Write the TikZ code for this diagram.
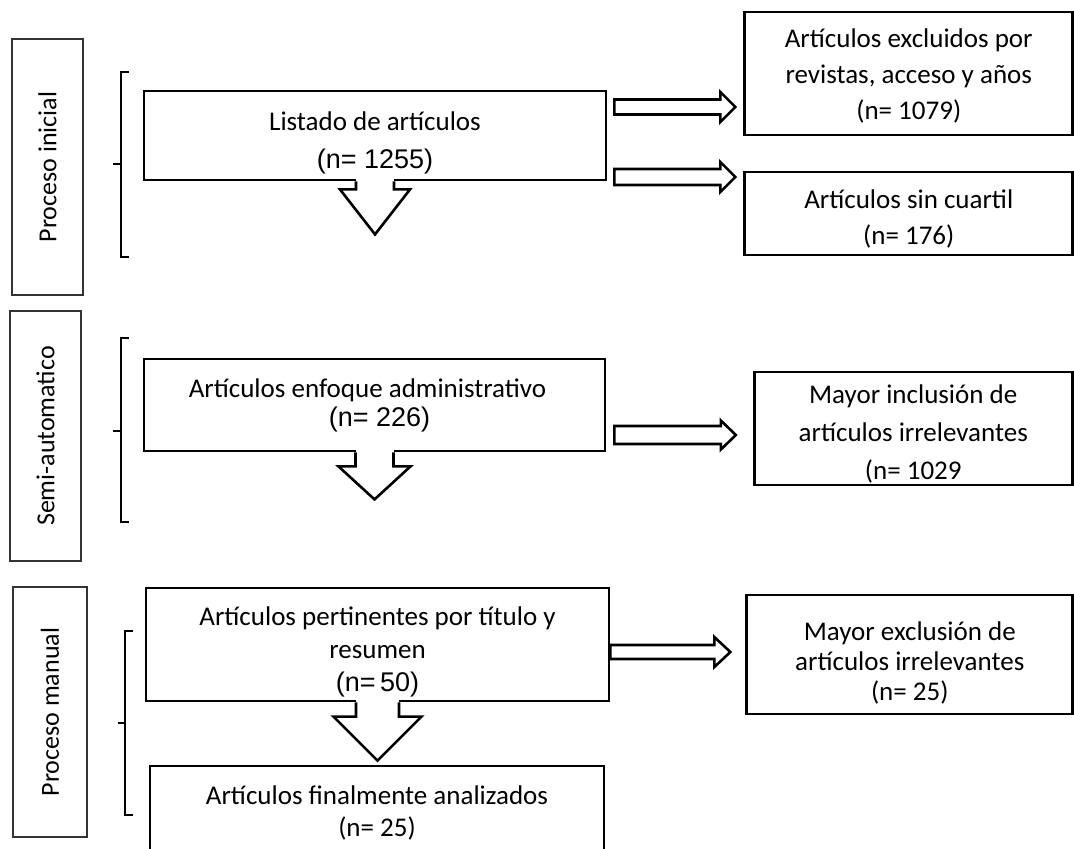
\documentclass[tikz,border=0pt]{standalone}
\usepackage{fontspec}
\setmainfont{Carlito}
\newfontfamily\arialfont{Liberation Sans}
\usetikzlibrary{calc}

\tikzset{
	mainbox/.style={draw, line width=1.4pt, fill=white, inner sep=0pt},
	boxtext/.style={align=center, inner sep=0pt, font=\fontsize{13.5pt}{#1}\selectfont},
	boxtext/.default=18pt,
	phasebox/.style={draw=black!80, line width=0.9pt, rotate=90, inner sep=0pt,
		font=\fontsize{13pt}{15pt}\selectfont},
	blockarrow/.style={draw, line width=1.3pt, fill=white, line join=miter},
	bracket/.style={line width=0.6pt}
}

% hollow block arrows: start, tip, head length, head half width, shaft half width
\newcommand{\flowright}[5]{%
	\draw[blockarrow] ($(#1)+(0,-#5)$) -- ($(#2)+(-#3,-#5)$) -- ($(#2)+(-#3,-#4)$) -- (#2)
		-- ($(#2)+(-#3,#4)$) -- ($(#2)+(-#3,#5)$) -- ($(#1)+(0,#5)$) -- cycle;}
\newcommand{\flowdown}[5]{%
	\fill[white] ($(#1)+(-#5,-3)$) rectangle ($(#2)+(#5,-#3)$);
	\fill[white] ($(#2)+(-#4,-#3)$) -- (#2) -- ($(#2)+(#4,-#3)$) -- cycle;
	\draw[blockarrow, fill=none] ($(#1)+(-#5,0)$) -- ($(#2)+(-#5,-#3)$) -- ($(#2)+(-#4,-#3)$) -- (#2)
		-- ($(#2)+(#4,-#3)$) -- ($(#2)+(#5,-#3)$) -- ($(#1)+(#5,0)$);}

\begin{document}
\begin{tikzpicture}[x=0.5pt, y=-0.5pt]
	%\draw[help lines] (0,0) grid (1074,848);
	\useasboundingbox (0,0) rectangle (1074,848);

	% phases
	\node[phasebox, minimum width=128pt, minimum height=35.5pt] (inicial) at (47.5,167) {Proceso inicial};
	\node[phasebox, minimum width=125pt, minimum height=35.5pt] (semi) at (45.5,436) {Semi-automatico};
	\node[phasebox, minimum width=125pt, minimum height=37pt] (manual) at (50,712) {Proceso manual};

	\draw[bracket] (129,72) -- (121,72) -- (121,257) -- (129,257);
	\draw[bracket] (113,164) -- (121,164);
	\draw[bracket] (129,338) -- (121,338) -- (121,522) -- (129,522);
	\draw[bracket] (113,431) -- (121,431);
	\draw[bracket] (133,631) -- (125,631) -- (125,815) -- (133,815);
	\draw[bracket] (118,723) -- (125,723);

	% main column
	\node[mainbox, minimum width=231pt, minimum height=44.5pt,
		label={[boxtext=19pt, yshift=-3.5pt]center:{Listado de artículos\\{\arialfont (n= 1255)}}}] (listado) at (375,135.5) {};
	\node[mainbox, minimum width=230.5pt, minimum height=46pt,
		label={[boxtext=14.5pt, xshift=-3.5pt]center:{Artículos enfoque administrativo\\\hspace*{12pt}{\arialfont (n= 226)}}}] (enfoque) at (374.5,405) {};
	\node[mainbox, minimum width=231.5pt, minimum height=56.5pt,
		label={[boxtext=16.5pt, yshift=-3.5pt]center:{Artículos pertinentes por título y\\resumen\\{\arialfont (n=\,50)}}}] (pertinentes) at (377.5,644.5) {};
	\node[mainbox, minimum width=227pt, minimum height=42pt,
		label={[boxtext=16pt, yshift=-2.5pt]center:{Artículos finalmente analizados\\(n= 25)}}] (final) at (377,808) {};

	% side column
	\node[mainbox, minimum width=164pt, minimum height=61.5pt,
		label={[boxtext, yshift=-1pt]center:{Artículos excluidos por\\revistas, acceso y años\\(n= 1079)}}] (excl) at (908.75,73.5) {};
	\node[mainbox, minimum width=164pt, minimum height=41.5pt,
		label={[boxtext, yshift=-2.5pt]center:{Artículos sin cuartil\\(n= 176)}}] (sincuartil) at (908.75,213.5) {};
	\node[mainbox, minimum width=159pt, minimum height=56.5pt,
		label={[boxtext=19pt, yshift=-2.5pt]center:{Mayor inclusión de\\artículos irrelevantes\\(n= 1029}}] (inclusion) at (913.25,428.5) {};
	\node[mainbox, minimum width=163pt, minimum height=59.5pt,
		label={[boxtext=15pt, yshift=-4pt]center:{Mayor exclusión de\\artículos irrelevantes\\(n= 25)}}] (exclusion) at (909.75,654.5) {};

	% arrows
	\flowright{$(listado.east)+(7,-28.5)$}{$(excl.west)+(-8,33.5)$}{15}{15}{7.5}
	\flowright{$(listado.east)+(7,41.5)$}{$(sincuartil.west)+(-8,-36.5)$}{15}{15}{8}
	\flowright{$(enfoque.east)+(8,30)$}{$(inclusion.west)+(-17,6.5)$}{15}{14.5}{9}
	\flowright{$(pertinentes.east)+(0,7.5)$}{$(exclusion.west)+(-15,-2.5)$}{16}{15}{7}

	\flowdown{listado.south}{$(listado.south)+(0,53)$}{45}{35}{19}
	\flowdown{enfoque.south}{$(enfoque.south)+(0,47)$}{33}{36}{19}
	\flowdown{pertinentes.south}{$(final.north)+(0.5,-4)$}{44}{44}{21.5}

\end{tikzpicture}
\end{document}
